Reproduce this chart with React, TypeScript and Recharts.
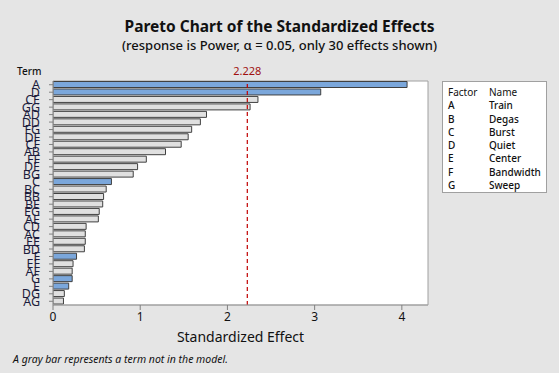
import React from 'react';
import { BarChart, Bar, XAxis, YAxis, Cell, ReferenceLine, ReferenceArea, CartesianGrid } from 'recharts';

const terms = ['A','D','CE','GG','AD','DD','FG','DF','CF','AB','FF','DE','BG','C','BC','BB','BE','EG','AE','CD','AC','EE','BD','F','EF','AF','G','E','DG','AG'];
const effects = [4.06,3.07,2.35,2.26,1.76,1.69,1.59,1.55,1.47,1.29,1.07,0.97,0.92,0.67,0.61,0.58,0.57,0.53,0.52,0.38,0.37,0.37,0.36,0.27,0.23,0.22,0.22,0.18,0.13,0.12];
const modelTerms = ['A','B','C','D','E','F','G'];
const xTicks = [0,1,2,3,4];
const critical = 2.228;
const factors = ['A','B','C','D','E','F','G'];
const factorNames = ['Train','Degas','Burst','Quiet','Center','Bandwidth','Sweep'];

const data = terms.map((t, i) => ({ term: t, value: effects[i] }));

const FONT = '"Noto Sans", sans-serif';
const BLUE = '#7BA7DB';
const GRAY = '#E0E0E0';

const YTick = (props: any) => {
  const { x, y, payload } = props;
  return (
    <text x={x} y={y} dy={4.5} textAnchor="end" fontSize={12.5} fill="#1c1c3c" fontFamily={FONT}>
      {payload.value}
    </text>
  );
};

export default function App() {
  return (
    <div style={{ position: 'absolute', left: 0, top: 0, width: 559, height: 373, background: '#E5E5E5', fontFamily: FONT, overflow: 'hidden' }}>
      <div style={{ position: 'absolute', left: 0, top: 15, width: 559, textAlign: 'center', fontSize: 15.5, fontWeight: 700, lineHeight: '22px', color: '#111' }}>
        Pareto Chart of the Standardized Effects
      </div>
      <div style={{ position: 'absolute', left: 0, top: 36, width: 559, textAlign: 'center', fontSize: 13, fontWeight: 500, lineHeight: '18px', color: '#111' }}>
        (response is Power, α = 0.05, only 30 effects shown)
      </div>
      <div style={{ position: 'absolute', left: 17, top: 64, fontSize: 10, fontWeight: 500, lineHeight: '14px', color: '#111' }}>Term</div>
      <div style={{ position: 'absolute', left: 0, top: 0 }}>
        <BarChart width={559} height={373} data={data} layout="vertical" margin={{ top: 81, right: 131, bottom: 0, left: 0 }} barCategoryGap={0.5}>
          <CartesianGrid horizontal={false} vertical={false} fill="#FFFFFF" fillOpacity={1} />
          <XAxis
            type="number"
            domain={[0, 4.3]}
            ticks={xTicks}
            allowDataOverflow
            height={68}
            tickSize={5}
            tickMargin={2}
            stroke="#A0A0A0"
            tick={{ fontSize: 12, fill: '#111', fontFamily: FONT }}
            tickLine={{ stroke: '#808080' }}
            label={{ value: 'Standardized Effect', position: 'insideBottom', offset: 31, fontSize: 14, fill: '#111', fontFamily: FONT }}
          />
          <YAxis
            type="category"
            dataKey="term"
            width={53}
            tickSize={4}
            tickMargin={9}
            interval={0}
            stroke="#A0A0A0"
            tickLine={{ stroke: '#808080' }}
            tick={<YTick />}
          />
          <Bar dataKey="value" isAnimationActive={false} stroke="#404040" strokeWidth={1}>
            {data.map((d) => (
              <Cell key={d.term} fill={modelTerms.includes(d.term) ? BLUE : GRAY} />
            ))}
          </Bar>
          <ReferenceLine
            x={critical}
            stroke="#C00000"
            strokeWidth={1.2}
            strokeDasharray="4 3"
            label={{ value: '2.228', position: 'top', offset: 6, fontSize: 11, fill: '#A01010', fontFamily: FONT }}
          />
          <ReferenceArea x1={0} x2={4.3} fill="none" stroke="#A0A0A0" strokeWidth={1} ifOverflow="visible" />
        </BarChart>
      </div>
      <div style={{ position: 'absolute', left: 442, top: 81, width: 103, height: 110, background: '#fff', border: '1px solid #A0A0A0', fontSize: 10, lineHeight: '13.3px', color: '#111' }}>
        <div style={{ position: 'absolute', left: 5, top: 4 }}>
          <div style={{ display: 'flex' }}>
            <span style={{ width: 41 }}>Factor</span>
            <span>Name</span>
          </div>
          {factors.map((f, i) => (
            <div key={f} style={{ display: 'flex' }}>
              <span style={{ width: 41, fontWeight: 500 }}>{f}</span>
              <span style={{ fontWeight: 500 }}>{factorNames[i]}</span>
            </div>
          ))}
        </div>
      </div>
      <div style={{ position: 'absolute', left: 13, top: 351, fontSize: 10.5, fontStyle: 'italic', lineHeight: '16px', color: '#111' }}>
        A gray bar represents a term not in the model.
      </div>
    </div>
  );
}
